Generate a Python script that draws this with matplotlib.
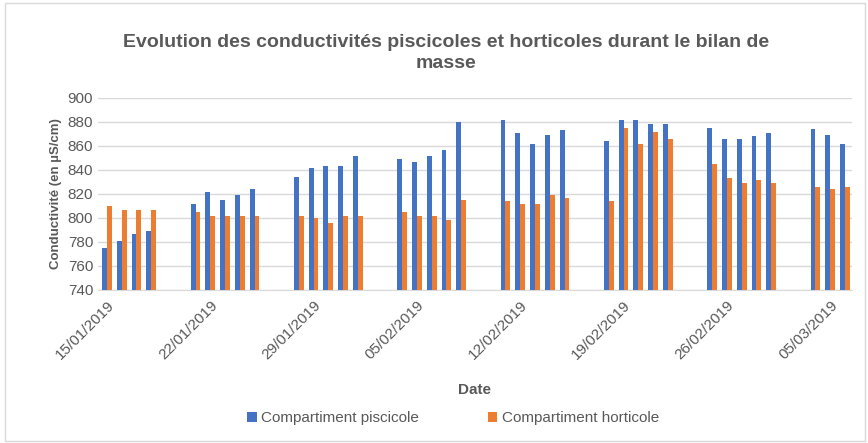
import datetime as dt

import matplotlib

matplotlib.use("Agg")
import matplotlib.pyplot as plt
import matplotlib.dates as mdates
import numpy as np

plt.rcParams["font.family"] = ["Liberation Sans", "DejaVu Sans"]

TITLE = "Evolution des conductivités piscicoles et horticoles durant le bilan de\nmasse"
DATES = [
    "15/01/2019", "16/01/2019", "17/01/2019", "18/01/2019",
    "21/01/2019", "22/01/2019", "23/01/2019", "24/01/2019", "25/01/2019",
    "28/01/2019", "29/01/2019", "30/01/2019", "31/01/2019", "01/02/2019",
    "04/02/2019", "05/02/2019", "06/02/2019", "07/02/2019", "08/02/2019",
    "11/02/2019", "12/02/2019", "13/02/2019", "14/02/2019", "15/02/2019",
    "18/02/2019", "19/02/2019", "20/02/2019", "21/02/2019", "22/02/2019",
    "25/02/2019", "26/02/2019", "27/02/2019", "28/02/2019", "01/03/2019",
    "04/03/2019", "05/03/2019", "06/03/2019",
]
PISCICOLE = [
    775, 781, 787, 789,
    812, 822, 815, 819, 824,
    834, 842, 843, 843, 852,
    849, 847, 852, 857, 880,
    882, 871, 862, 869, 873,
    864, 882, 882, 878, 878,
    875, 866, 866, 868, 871,
    874, 869, 862,
]
HORTICOLE = [
    810, 807, 807, 807,
    805, 802, 802, 802, 802,
    802, 800, 796, 802, 802,
    805, 802, 802, 798, 815,
    814, 812, 812, 819, 817,
    814, 875, 862, 872, 866,
    845, 833, 829, 832, 829,
    826, 824, 826,
]
TICK_DATES = ["15/01/2019", "22/01/2019", "29/01/2019", "05/02/2019",
              "12/02/2019", "19/02/2019", "26/02/2019", "05/03/2019"]

BLUE = "#4472C4"
ORANGE = "#ED7D31"
GREY = "#595959"


def parse(d):
    return dt.datetime.strptime(d, "%d/%m/%Y")


def main():
    days = mdates.date2num([parse(d) for d in DATES])
    ticks = mdates.date2num([parse(d) for d in TICK_DATES])

    fig = plt.figure(figsize=(8.68, 4.43), dpi=100)
    ax = fig.add_axes([0.113, 0.3454, 0.869, 0.4334])

    w = 0.33
    ax.bar(days - w / 2, PISCICOLE, width=w, color=BLUE, label="Compartiment piscicole", zorder=3)
    ax.bar(days + w / 2, HORTICOLE, width=w, color=ORANGE, label="Compartiment horticole", zorder=3)

    ax.set_ylim(740, 900)
    ax.set_yticks(np.arange(740, 901, 20))
    ax.set_xlim(days[0] - 0.6, days[-1] + 0.5)
    ax.set_xticks(ticks)
    ax.set_xticklabels(TICK_DATES, rotation=45, ha="right", rotation_mode="anchor")

    ax.grid(axis="y", color="#D9D9D9", linewidth=1, zorder=0)
    for side in ("top", "right", "left"):
        ax.spines[side].set_visible(False)
    ax.spines["bottom"].set_color("#D9D9D9")
    ax.tick_params(axis="both", length=0, colors=GREY, labelsize=11)
    ax.tick_params(axis="x", pad=6)

    ax.set_ylabel("Conductivité (en µS/cm)", fontsize=9.5, fontweight="bold", color=GREY)
    fig.text(0.547, 0.12, "Date", ha="center", va="center", fontsize=11,
             fontweight="bold", color=GREY)
    fig.text(0.514, 0.88, TITLE, ha="center", va="center", fontsize=14,
             fontweight="bold", color=GREY, linespacing=1.35)

    fig.legend(loc="center", bbox_to_anchor=(0.522, 0.056), ncol=2, frameon=False,
               fontsize=11, handlelength=0.6, handleheight=0.6, columnspacing=4.5,
               handletextpad=0.3, labelcolor=GREY)

    fig.patches.append(plt.Rectangle((0.006, 0.004), 0.99, 0.99, transform=fig.transFigure,
                                     fill=False, edgecolor="#D9D9D9", linewidth=1))
    fig.savefig("out.png", dpi=100)
    plt.close(fig)


if __name__ == "__main__":
    main()
